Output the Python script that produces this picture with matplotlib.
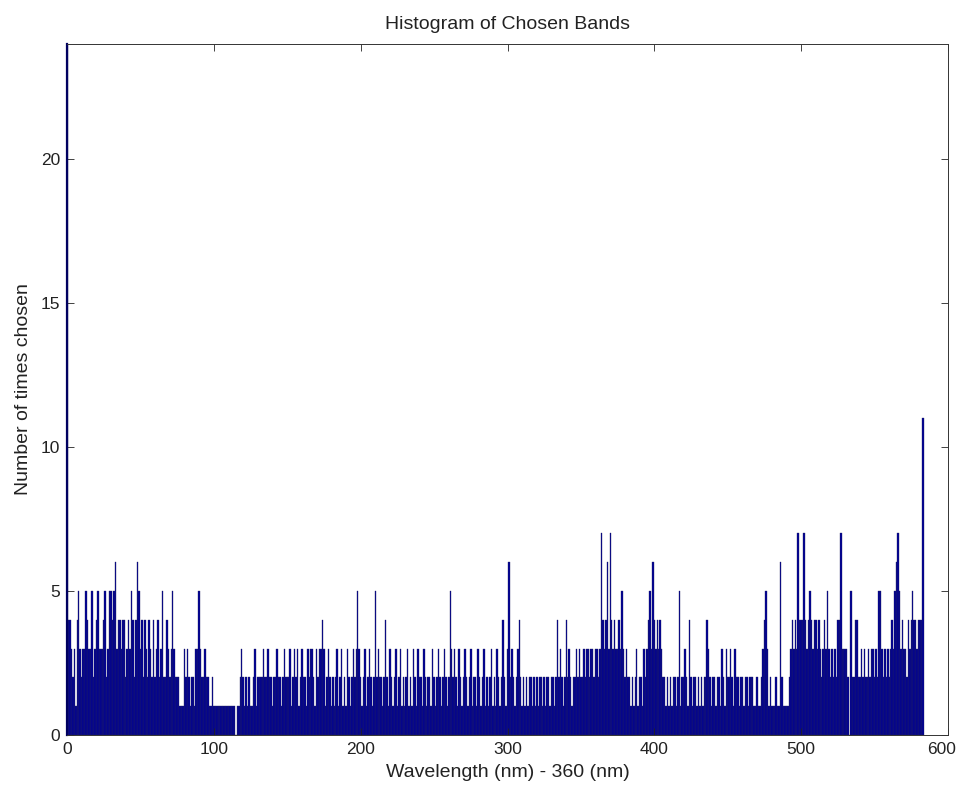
import numpy as np
import matplotlib
matplotlib.use('Agg')
import matplotlib.pyplot as plt
import matplotlib.transforms as mtransforms

# counts per band, band index 0..583 (wavelength - 360 nm)
counts = [
    24,
    4, 4, 3, 2, 3, 1, 4, 5, 3, 2,
    3, 3, 5, 4, 3, 3, 5, 2, 3, 4,
    5, 3, 3, 3, 4, 5, 2, 3, 5, 5,
    4, 5, 6, 3, 4, 4, 3, 4, 4, 2,
    3, 4, 3, 5, 4, 2, 4, 6, 5, 3,
    4, 2, 4, 3, 2, 4, 3, 2, 4, 2,
    3, 4, 2, 3, 5, 2, 2, 4, 3, 2,
    3, 5, 3, 2, 2, 2, 1, 1, 1, 3,
    2, 3, 2, 1, 2, 2, 1, 3, 3, 5,
    3, 2, 2, 3, 2, 2, 1, 1, 2, 1,
    1, 1, 1, 1, 1, 1, 1, 1, 1, 1,
    1, 1, 1, 1, 0, 1, 1, 2, 3, 2,
    1, 2, 1, 2, 1, 1, 2, 3, 1, 2,
    2, 2, 2, 3, 2, 2, 3, 2, 2, 1,
    2, 2, 3, 2, 2, 1, 2, 3, 2, 2,
    2, 3, 1, 2, 3, 2, 3, 1, 2, 3,
    2, 2, 1, 3, 2, 3, 3, 2, 1, 3,
    2, 3, 3, 4, 3, 1, 2, 3, 2, 1,
    2, 1, 2, 3, 1, 2, 3, 1, 2, 1,
    3, 2, 1, 2, 3, 2, 3, 5, 3, 2,
    1, 2, 3, 1, 2, 3, 2, 1, 2, 5,
    2, 3, 2, 2, 1, 2, 4, 2, 1, 3,
    2, 1, 2, 3, 1, 2, 3, 1, 2, 1,
    2, 3, 1, 2, 1, 3, 2, 1, 3, 2,
    2, 1, 3, 2, 1, 2, 2, 1, 3, 2,
    1, 2, 3, 2, 1, 2, 3, 2, 1, 2,
    5, 3, 2, 3, 2, 1, 3, 2, 1, 2,
    3, 2, 1, 2, 3, 1, 2, 2, 1, 3,
    2, 1, 2, 3, 1, 2, 1, 2, 3, 1,
    2, 1, 3, 2, 1, 2, 4, 2, 1, 3,
    6, 2, 3, 2, 1, 2, 3, 4, 2, 1,
    2, 1, 2, 1, 2, 2, 1, 2, 1, 2,
    1, 2, 2, 1, 2, 1, 2, 2, 1, 2,
    2, 1, 2, 4, 2, 3, 2, 1, 2, 4,
    2, 3, 2, 1, 2, 2, 3, 2, 3, 2,
    2, 3, 2, 3, 3, 2, 3, 3, 2, 3,
    3, 2, 3, 7, 4, 3, 4, 6, 3, 7,
    4, 3, 4, 3, 3, 4, 3, 5, 3, 2,
    3, 2, 2, 1, 2, 1, 2, 3, 1, 2,
    2, 1, 3, 2, 3, 4, 5, 3, 6, 4,
    3, 4, 3, 4, 3, 2, 2, 1, 2, 1,
    2, 1, 2, 2, 1, 2, 5, 1, 2, 2,
    3, 2, 1, 4, 2, 1, 2, 2, 1, 2,
    1, 2, 1, 2, 2, 4, 3, 2, 1, 2,
    2, 1, 2, 2, 1, 3, 2, 1, 3, 2,
    2, 3, 2, 1, 3, 2, 2, 1, 2, 2,
    1, 2, 2, 1, 2, 2, 2, 1, 1, 2,
    1, 1, 2, 3, 4, 5, 3, 1, 2, 1,
    1, 1, 2, 1, 1, 6, 2, 1, 1, 1,
    1, 2, 3, 4, 3, 4, 3, 7, 4, 4,
    4, 7, 4, 3, 4, 5, 4, 3, 4, 4,
    3, 4, 3, 2, 3, 4, 3, 5, 3, 2,
    3, 2, 3, 2, 4, 4, 7, 3, 3, 3,
    3, 2, 0, 5, 2, 2, 4, 4, 2, 2,
    3, 2, 3, 2, 2, 3, 2, 3, 3, 2,
    3, 2, 5, 5, 3, 2, 3, 2, 3, 2,
    3, 4, 3, 5, 6, 7, 5, 3, 4, 3,
    3, 2, 4, 3, 4, 5, 4, 4, 3, 4,
    4, 4, 11,
]
bands = np.arange(len(counts))

xticks = [0, 100, 200, 300, 400, 500, 600]
yticks = [0, 5, 10, 15, 20]

plt.rcParams['font.family'] = ['Liberation Sans', 'DejaVu Sans']
fig = plt.figure(figsize=(9.6, 7.88), dpi=100)
ax = fig.add_axes([0.0698, 0.0673, 0.9177, 0.8769])
ax.bar(bands, counts, width=1.0, color='#000094', edgecolor='#202060',
       linewidth=0.25)
ax.set_xlim(0, 600)
ax.set_ylim(0, 24)
ax.set_xticks(xticks)
ax.set_yticks(yticks)
ax.tick_params(direction='in', top=True, right=True, labelsize=12.5,
               length=5, width=0.6, colors='#222222')
ax.tick_params(axis='x', pad=5)
ax.tick_params(axis='y', pad=5)
for s in ax.spines.values():
    s.set_linewidth(0.7)
    s.set_color('#333333')
ax.spines['left'].set_color('#000060')
ax.spines['left'].set_linewidth(1.6)

# last x label sits close to the figure edge, nudge it left a bit
fig.canvas.draw()
lbl = ax.get_xticklabels()[-1]
lbl.set_transform(lbl.get_transform() +
                  mtransforms.ScaledTranslation(-6 / 100, 0, fig.dpi_scale_trans))

ax.set_title('Histogram of Chosen Bands', fontsize=14, pad=11,
             color='#222222')
ax.set_xlabel('Wavelength (nm) - 360 (nm)', fontsize=14, labelpad=5,
              color='#222222')
ax.set_ylabel('Number of times chosen', fontsize=14, labelpad=6,
              color='#222222')
fig.savefig('out.png', dpi=100)
